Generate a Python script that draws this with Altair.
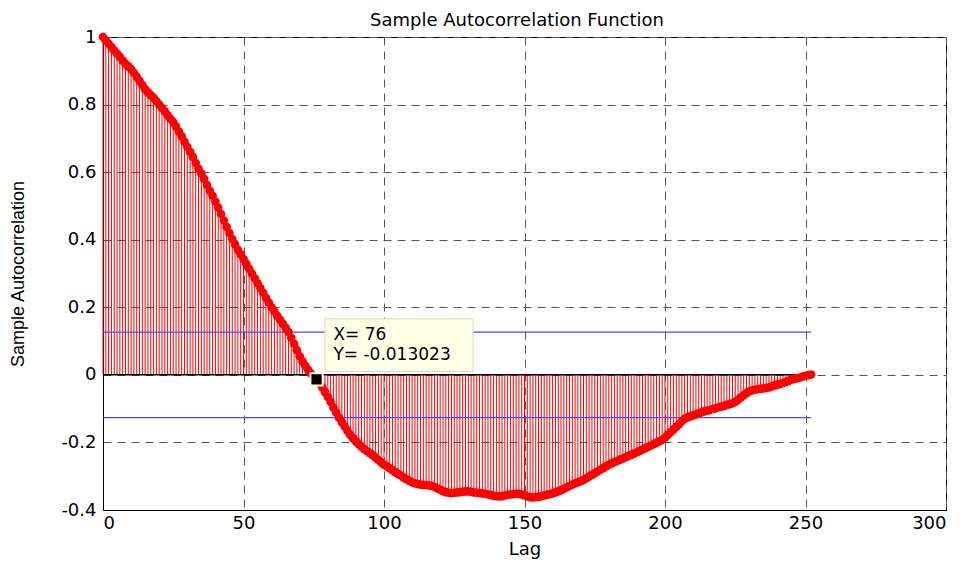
import altair as alt
import pandas as pd

lags = list(range(253))
acf = [
    1.000, 0.990, 0.980, 0.970, 0.960, 0.951, 0.941, 0.930, 0.921, 0.913,
    0.905, 0.894, 0.882, 0.870, 0.858, 0.845, 0.836, 0.828, 0.820, 0.810,
    0.800, 0.790, 0.780, 0.768, 0.758, 0.748, 0.735, 0.720, 0.706, 0.690,
    0.675, 0.660, 0.645, 0.627, 0.610, 0.596, 0.580, 0.562, 0.545, 0.530,
    0.513, 0.495, 0.476, 0.457, 0.438, 0.420, 0.402, 0.386, 0.370, 0.357,
    0.343, 0.329, 0.314, 0.300, 0.286, 0.271, 0.257, 0.243, 0.228, 0.214,
    0.200, 0.187, 0.175, 0.163, 0.151, 0.139, 0.127, 0.110, 0.092, 0.073,
    0.055, 0.040, 0.027, 0.015, 0.004, -0.005, -0.013, -0.024, -0.037, -0.051,
    -0.065, -0.080, -0.097, -0.112, -0.127, -0.140, -0.153, -0.166, -0.178, -0.188,
    -0.197, -0.205, -0.213, -0.220, -0.226, -0.232, -0.238, -0.245, -0.252, -0.259,
    -0.266, -0.271, -0.276, -0.282, -0.288, -0.293, -0.298, -0.304, -0.309, -0.314,
    -0.318, -0.321, -0.323, -0.325, -0.326, -0.326, -0.327, -0.329, -0.332, -0.336,
    -0.340, -0.344, -0.347, -0.349, -0.350, -0.349, -0.348, -0.347, -0.346, -0.345,
    -0.345, -0.346, -0.348, -0.349, -0.350, -0.351, -0.352, -0.354, -0.356, -0.358,
    -0.359, -0.360, -0.359, -0.357, -0.355, -0.354, -0.353, -0.352, -0.352, -0.354,
    -0.357, -0.360, -0.362, -0.363, -0.362, -0.361, -0.359, -0.357, -0.355, -0.353,
    -0.351, -0.348, -0.345, -0.341, -0.337, -0.333, -0.329, -0.325, -0.321, -0.318,
    -0.315, -0.311, -0.306, -0.301, -0.296, -0.291, -0.286, -0.281, -0.276, -0.271,
    -0.266, -0.262, -0.258, -0.255, -0.251, -0.248, -0.244, -0.240, -0.237, -0.233,
    -0.229, -0.225, -0.221, -0.217, -0.213, -0.209, -0.205, -0.201, -0.197, -0.192,
    -0.186, -0.178, -0.170, -0.162, -0.154, -0.146, -0.137, -0.130, -0.126, -0.123,
    -0.120, -0.117, -0.114, -0.111, -0.108, -0.106, -0.104, -0.101, -0.099, -0.096,
    -0.094, -0.092, -0.089, -0.087, -0.084, -0.080, -0.074, -0.067, -0.060, -0.054,
    -0.049, -0.046, -0.044, -0.042, -0.041, -0.040, -0.039, -0.037, -0.034, -0.031,
    -0.029, -0.027, -0.024, -0.021, -0.018, -0.014, -0.012, -0.010, -0.008, -0.005,
    -0.003, -0.001, 0.001,
]
conf_bound = 0.1265
x_ticks = [0, 50, 100, 150, 200, 250, 300]
y_ticks = [-0.4, -0.2, 0, 0.2, 0.4, 0.6, 0.8, 1]
tip_lag = 76
tip_value = -0.013023
tip_lines = ["X= 76", "Y= -0.013023"]
title_text = "Sample Autocorrelation Function"

FONT = "DejaVu Sans"
YFONT = "Liberation Sans"

df = pd.DataFrame({"lag": lags, "acf": acf})
bounds = pd.DataFrame({"b": [conf_bound, -conf_bound], "x0": [0, 0], "x1": [lags[-1], lags[-1]]})
tip_df = pd.DataFrame({"lag": [tip_lag], "acf": [tip_value]})
tip_text = pd.DataFrame({"t": tip_lines, "ty": [0.118, 0.060]})
title_df = pd.DataFrame({"t": [title_text]})

xs = alt.Scale(domain=[0, 300], nice=False, zero=False)
ys = alt.Scale(domain=[-0.4, 1], nice=False, zero=False)

x_axis = alt.Axis(values=x_ticks, title="Lag", grid=True, ticks=False,
                  labelFontSize=18, labelPadding=4, labelFont=FONT,
                  titleFont=FONT, titleFontSize=18, titleFontWeight="normal",
                  titleX=421.5, titleY=39, titleBaseline="middle", titleAlign="center")
y_axis = alt.Axis(values=y_ticks, title="Sample Autocorrelation", grid=True, ticks=False,
                  labelFontSize=18, labelPadding=7, labelFont=FONT,
                  labelExpr="toString(round(datum.value*10)/10)",
                  titleFont=YFONT, titleFontSize=18, titleFontWeight="normal",
                  titleX=-85, titleY=236.5, titleAngle=270, titleAlign="center",
                  titleBaseline="middle")

base = alt.Chart(df)

stems = base.mark_rule(color="#ff0000", strokeWidth=1).encode(
    x=alt.X("lag:Q", scale=xs, axis=x_axis),
    y=alt.Y("acf:Q", scale=ys, axis=y_axis),
    y2=alt.datum(0),
)

blue = alt.Chart(bounds).mark_rule(color="#4848ff", strokeWidth=1.2).encode(
    x=alt.X("x0:Q", scale=xs), x2="x1:Q", y=alt.Y("b:Q", scale=ys)
)

baseline = alt.Chart(bounds.iloc[:1]).mark_rule(color="black", strokeWidth=1.5).encode(
    x=alt.X("x0:Q", scale=xs), x2="x1:Q", y=alt.datum(0)
)

markers = base.mark_circle(color="#ff0000", size=75, opacity=1).encode(
    x=alt.X("lag:Q", scale=xs), y=alt.Y("acf:Q", scale=ys)
)

tip_box = alt.Chart(tip_df).mark_rect(fill="#ffffe6", stroke="#d6d6c2", strokeWidth=1).encode(
    x=alt.datum(79), x2=alt.datum(131.7), y=alt.datum(0.166), y2=alt.datum(0.010)
)

tip_mark = alt.Chart(tip_df).mark_square(color="black", size=150, opacity=1,
                                         stroke="#ffffe6", strokeWidth=2).encode(
    x=alt.X("lag:Q", scale=xs), y=alt.Y("acf:Q", scale=ys)
)

tip_txt = alt.Chart(tip_text).mark_text(align="left", baseline="middle", font=FONT,
                                        fontSize=17, color="black").encode(
    x=alt.datum(82), y=alt.Y("ty:Q", scale=ys), text="t:N"
)

title_mark = alt.Chart(title_df).mark_text(align="center", baseline="alphabetic", font=FONT,
                                           fontSize=18, color="black").encode(
    x=alt.value(414), y=alt.value(-11), text="t:N"
)

chart = alt.layer(stems, blue, baseline, markers, tip_box, tip_mark, tip_txt, title_mark).properties(
    width=843, height=473,
    autosize=alt.AutoSizeParams(type="none"),
    padding={"left": 95, "top": 29, "right": 18, "bottom": 50},
    background="white",
).configure_view(stroke="black", strokeWidth=1).configure_axis(
    domainColor="black", gridColor="#555", gridDash=[8, 6], gridOpacity=1,
    gridWidth=1, labelColor="black", titleColor="black"
)

chart.save("out.html", embed_options={"renderer": "svg", "actions": False})
